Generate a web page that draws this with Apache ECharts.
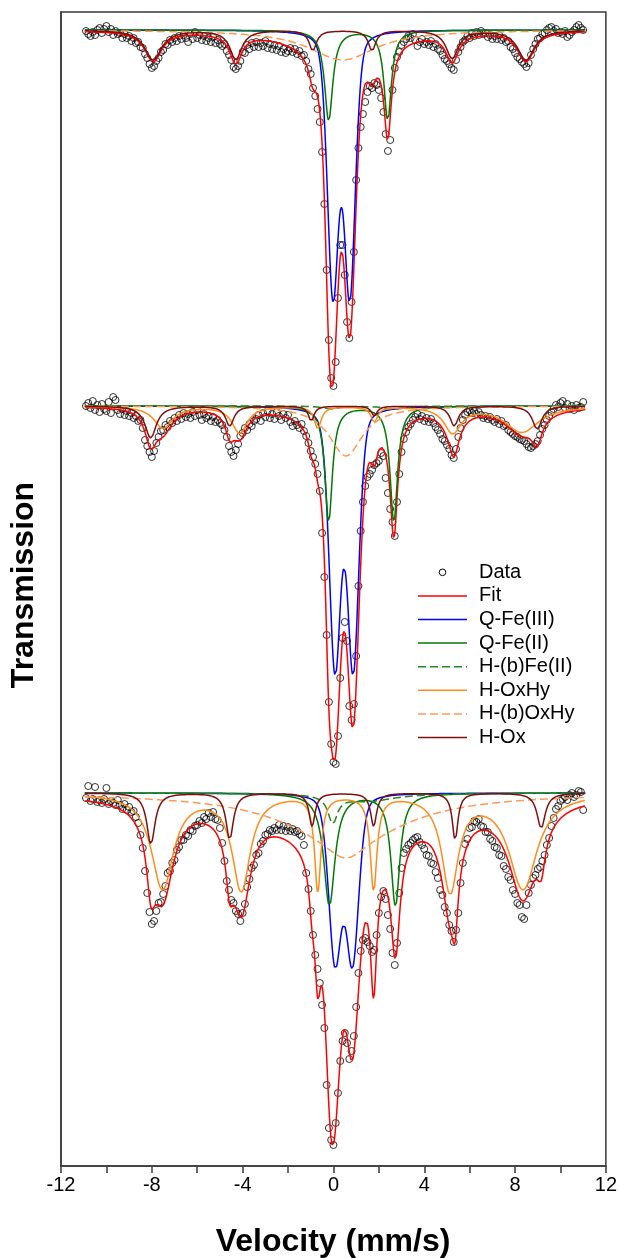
<!DOCTYPE html>
<html><head><meta charset="utf-8">
<script src="https://cdn.jsdelivr.net/npm/echarts@6/dist/echarts.min.js"></script>
<style>html,body{margin:0;padding:0;background:#fff}#c{width:620px;height:1258px}</style>
</head><body><div id="c"></div>
<script>
// x-axis tick labels
const xTicks = [-12, -8, -4, 0, 4, 8, 12];
// vertical offsets of the three stacked spectra
const offsets = [0.1526, 0.0774, 0];

// measured data: velocity (mm/s) and relative transmission of the three spectra (top, middle, bottom)
const velocity = [
-10.9,-10.8,-10.7,-10.6,-10.5,-10.4,-10.3,-10.2,-10.1,-10.0,-9.9,-9.8,-9.7,-9.6,-9.5,
-9.4,-9.3,-9.2,-9.1,-9.0,-8.9,-8.8,-8.7,-8.6,-8.5,-8.4,-8.3,-8.2,-8.1,-8.0,
-7.9,-7.8,-7.7,-7.6,-7.5,-7.4,-7.3,-7.2,-7.1,-7.0,-6.9,-6.8,-6.7,-6.6,-6.5,
-6.4,-6.3,-6.2,-6.1,-6.0,-5.9,-5.8,-5.7,-5.6,-5.5,-5.4,-5.3,-5.2,-5.1,-5.0,
-4.9,-4.8,-4.7,-4.6,-4.5,-4.4,-4.3,-4.2,-4.1,-4.0,-3.9,-3.8,-3.7,-3.6,-3.5,
-3.4,-3.3,-3.2,-3.1,-3.0,-2.9,-2.8,-2.7,-2.6,-2.5,-2.4,-2.3,-2.2,-2.1,-2.0,
-1.9,-1.8,-1.7,-1.6,-1.5,-1.4,-1.3,-1.2,-1.1,-1.0,-0.9,-0.8,-0.7,-0.6,-0.5,
-0.4,-0.3,-0.2,-0.1,0.0,0.1,0.2,0.3,0.4,0.5,0.6,0.7,0.8,0.9,1.0,
1.1,1.2,1.3,1.4,1.5,1.6,1.7,1.8,1.9,2.0,2.1,2.2,2.3,2.4,2.5,
2.6,2.7,2.8,2.9,3.0,3.1,3.2,3.3,3.4,3.5,3.6,3.7,3.8,3.9,4.0,
4.1,4.2,4.3,4.4,4.5,4.6,4.7,4.8,4.9,5.0,5.1,5.2,5.3,5.4,5.5,
5.6,5.7,5.8,5.9,6.0,6.1,6.2,6.3,6.4,6.5,6.6,6.7,6.8,6.9,7.0,
7.1,7.2,7.3,7.4,7.5,7.6,7.7,7.8,7.9,8.0,8.1,8.2,8.3,8.4,8.5,
8.6,8.7,8.8,8.9,9.0,9.1,9.2,9.3,9.4,9.5,9.6,9.7,9.8,9.9,10.0,
10.1,10.2,10.3,10.4,10.5,10.6,10.7,10.8,10.9,11.0];
const data1 = [
0.9998,0.9992,0.9988,0.9996,0.9990,1.0000,1.0004,0.9994,1.0002,1.0008,0.9996,1.0002,0.9990,0.9998,0.9992,
0.9994,0.9984,0.9992,0.9984,0.9988,0.9978,0.9984,0.9974,0.9976,0.9966,0.9964,0.9952,0.9944,0.9932,0.9924,
0.9928,0.9938,0.9944,0.9956,0.9960,0.9972,0.9970,0.9980,0.9976,0.9984,0.9978,0.9988,0.9982,0.9990,0.9984,
0.9976,0.9992,0.9982,0.9996,0.9984,0.9990,0.9980,0.9988,0.9978,0.9984,0.9976,0.9986,0.9974,0.9980,0.9972,
0.9968,0.9972,0.9958,0.9950,0.9940,0.9926,0.9922,0.9928,0.9938,0.9956,0.9954,0.9970,0.9962,0.9974,0.9966,
0.9976,0.9966,0.9974,0.9968,0.9978,0.9964,0.9972,0.9962,0.9970,0.9960,0.9968,0.9956,0.9962,0.9954,0.9958,
0.9964,0.9956,0.9962,0.9952,0.9958,0.9948,0.9950,0.9938,0.9922,0.9912,0.9884,0.9868,0.9842,0.9816,0.9756,
0.9652,0.9520,0.9380,0.9304,0.9288,0.9336,0.9464,0.9570,0.9570,0.9510,0.9416,0.9384,0.9456,0.9556,0.9700,
0.9764,0.9806,0.9832,0.9856,0.9876,0.9888,0.9884,0.9894,0.9890,0.9880,0.9864,0.9836,0.9792,0.9758,0.9780,
0.9880,0.9924,0.9946,0.9956,0.9970,0.9976,0.9982,0.9988,0.9984,0.9992,0.9980,0.9968,0.9976,0.9982,0.9972,
0.9976,0.9970,0.9978,0.9966,0.9972,0.9962,0.9958,0.9950,0.9942,0.9938,0.9932,0.9924,0.9920,0.9940,0.9956,
0.9966,0.9976,0.9980,0.9988,0.9984,0.9994,0.9988,0.9996,0.9990,0.9998,0.9992,0.9994,0.9986,0.9990,0.9982,
0.9988,0.9982,0.9990,0.9980,0.9984,0.9976,0.9978,0.9966,0.9962,0.9954,0.9946,0.9942,0.9936,0.9932,0.9926,
0.9934,0.9950,0.9962,0.9972,0.9982,0.9984,0.9992,0.9994,1.0000,1.0004,1.0006,0.9998,1.0002,0.9994,0.9996,
0.9992,0.9998,0.9986,0.9990,0.9996,1.0000,1.0006,1.0010,1.0004,1.0000];
const data2 = [
1.0000,1.0006,0.9996,1.0010,0.9992,1.0002,0.9988,1.0004,0.9994,0.9990,1.0008,0.9986,1.0018,1.0012,0.9992,
0.9984,0.9994,0.9982,0.9990,0.9980,0.9986,0.9976,0.9980,0.9970,0.9972,0.9956,0.9932,0.9920,0.9908,0.9898,
0.9910,0.9926,0.9938,0.9950,0.9952,0.9962,0.9958,0.9970,0.9966,0.9976,0.9970,0.9982,0.9974,0.9986,0.9978,
0.9984,0.9976,0.9988,0.9980,0.9992,0.9982,0.9972,0.9984,0.9976,0.9980,0.9970,0.9978,0.9968,0.9972,0.9966,
0.9962,0.9952,0.9938,0.9920,0.9908,0.9900,0.9912,0.9924,0.9940,0.9946,0.9956,0.9952,0.9964,0.9960,0.9970,
0.9974,0.9982,0.9970,0.9986,0.9978,0.9990,0.9976,0.9984,0.9974,0.9988,0.9980,0.9972,0.9984,0.9976,0.9982,
0.9968,0.9960,0.9970,0.9962,0.9956,0.9964,0.9950,0.9940,0.9926,0.9910,0.9898,0.9884,0.9864,0.9830,0.9746,
0.9658,0.9542,0.9408,0.9324,0.9288,0.9284,0.9340,0.9456,0.9536,0.9568,0.9530,0.9400,0.9372,0.9404,0.9500,
0.9640,0.9750,0.9808,0.9840,0.9858,0.9864,0.9872,0.9882,0.9886,0.9890,0.9906,0.9900,0.9856,0.9826,0.9794,
0.9768,0.9740,0.9808,0.9864,0.9908,0.9934,0.9948,0.9958,0.9964,0.9972,0.9978,0.9984,0.9974,0.9980,0.9970,
0.9976,0.9968,0.9974,0.9966,0.9958,0.9952,0.9944,0.9934,0.9930,0.9922,0.9914,0.9902,0.9896,0.9914,0.9938,
0.9956,0.9972,0.9982,0.9988,0.9992,0.9986,0.9990,0.9984,0.9988,0.9982,0.9976,0.9980,0.9974,0.9978,0.9972,
0.9968,0.9974,0.9964,0.9970,0.9960,0.9962,0.9952,0.9948,0.9944,0.9940,0.9938,0.9934,0.9932,0.9930,0.9924,
0.9918,0.9916,0.9920,0.9924,0.9930,0.9942,0.9954,0.9962,0.9972,0.9980,0.9988,0.9994,1.0002,0.9998,1.0006,
1.0010,0.9996,1.0004,0.9994,1.0000,0.9992,1.0002,0.9996,0.9998,1.0008];
const data3 = [
0.9990,1.0014,0.9984,0.9988,1.0012,0.9982,0.9986,0.9980,0.9988,1.0010,0.9978,0.9984,0.9980,0.9976,0.9986,
0.9976,0.9968,0.9978,0.9966,0.9972,0.9962,0.9964,0.9952,0.9940,0.9916,0.9890,0.9844,0.9800,0.9762,0.9738,
0.9744,0.9764,0.9780,0.9782,0.9798,0.9814,0.9840,0.9844,0.9860,0.9866,0.9886,0.9892,0.9906,0.9906,0.9916,
0.9914,0.9926,0.9924,0.9934,0.9936,0.9944,0.9940,0.9952,0.9948,0.9960,0.9952,0.9962,0.9948,0.9946,0.9930,
0.9900,0.9864,0.9824,0.9806,0.9786,0.9780,0.9764,0.9758,0.9744,0.9760,0.9778,0.9812,0.9828,0.9850,0.9856,
0.9876,0.9880,0.9898,0.9904,0.9916,0.9918,0.9926,0.9924,0.9930,0.9926,0.9936,0.9926,0.9934,0.9924,0.9932,
0.9924,0.9928,0.9922,0.9924,0.9918,0.9914,0.9896,0.9840,0.9808,0.9764,0.9716,0.9676,0.9648,0.9620,0.9576,
0.9530,0.9416,0.9330,0.9306,0.9296,0.9340,0.9400,0.9464,0.9504,0.9520,0.9500,0.9468,0.9484,0.9514,0.9572,
0.9640,0.9684,0.9706,0.9710,0.9702,0.9694,0.9682,0.9686,0.9716,0.9760,0.9792,0.9804,0.9788,0.9756,0.9728,
0.9680,0.9656,0.9700,0.9800,0.9850,0.9880,0.9888,0.9896,0.9900,0.9906,0.9910,0.9912,0.9902,0.9896,0.9888,
0.9876,0.9874,0.9860,0.9858,0.9842,0.9830,0.9806,0.9796,0.9772,0.9760,0.9736,0.9724,0.9702,0.9726,0.9760,
0.9820,0.9860,0.9898,0.9908,0.9930,0.9932,0.9944,0.9942,0.9948,0.9934,0.9932,0.9922,0.9922,0.9908,0.9904,
0.9892,0.9890,0.9876,0.9874,0.9854,0.9848,0.9832,0.9826,0.9806,0.9798,0.9780,0.9776,0.9752,0.9748,0.9776,
0.9800,0.9816,0.9830,0.9836,0.9848,0.9852,0.9864,0.9876,0.9896,0.9910,0.9934,0.9950,0.9968,0.9974,0.9984,
0.9988,0.9992,0.9986,0.9996,1.0000,0.9992,0.9996,1.0004,1.0002,0.9966];

// fitted sub-spectra: lines [centre (mm/s), half width (mm/s), depth, Lorentzian fraction]
const s1_QFe3 = [[-0.02,0.29,0.0520,0.3],[0.72,0.29,0.0520,0.3]];
const s1_QFe2 = [[-0.21,0.22,0.0180],[2.39,0.20,0.0180]];
const s1_HbOxHy = [[0.40,1.8,0.0060]];
const s1_HOx = [[-7.94,0.45,0.0060],[-4.30,0.32,0.0058],[-0.91,0.20,0.0040],[1.70,0.20,0.0040],[5.23,0.33,0.0056],[8.48,0.44,0.0060]];

const s2_QFe3 = [[0.07,0.30,0.0518,0.3],[0.87,0.30,0.0518,0.3]];
const s2_QFe2 = [[-0.21,0.20,0.0230],[2.66,0.20,0.0230]];
const s2_HbFe2 = [[-0.10,0.40,0.0006],[2.60,0.50,0.0006]];
const s2_HOxHy = [[-7.50,0.50,0.0044],[-4.13,0.40,0.0054],[-0.69,0.18,0.0044],[1.80,0.18,0.0030],[5.25,0.45,0.0052],[8.30,0.90,0.0052]];
const s2_HbOxHy = [[0.55,0.9,0.0100]];
const s2_HOx = [[-8.05,0.30,0.0064],[-4.57,0.22,0.0040],[-0.98,0.15,0.0030],[1.80,0.15,0.0020],[5.32,0.22,0.0040],[8.97,0.25,0.0046]];

const s3_QFe3 = [[0.07,0.33,0.0330,0.3],[0.84,0.33,0.0330,0.3]];
const s3_QFe2 = [[-0.18,0.30,0.0224],[2.73,0.24,0.0224]];
const s3_HbFe2 = [[-0.03,0.25,0.0054],[1.50,1.50,0.0016]];
const s3_HOxHy = [[-7.53,0.59,0.0190],[-4.06,0.48,0.0192],[-0.69,0.17,0.0190],[1.77,0.18,0.0188],[5.14,0.44,0.0192],[8.35,0.75,0.0190]];
const s3_HbOxHy = [[0.55,3.3,0.0094],[0.55,1.0,0.0036]];
const s3_HOx = [[-8.04,0.22,0.0102],[-4.57,0.20,0.0092],[-0.94,0.16,0.0066],[1.77,0.16,0.0066],[5.36,0.15,0.0094],[9.15,0.22,0.0070]];

const spectra = [
  {off: offsets[0], data: data1, comps: {'Q-Fe(III)': s1_QFe3, 'Q-Fe(II)': s1_QFe2, 'H-(b)OxHy': s1_HbOxHy, 'H-Ox': s1_HOx}},
  {off: offsets[1], data: data2, comps: {'Q-Fe(III)': s2_QFe3, 'Q-Fe(II)': s2_QFe2, 'H-(b)Fe(II)': s2_HbFe2, 'H-OxHy': s2_HOxHy, 'H-(b)OxHy': s2_HbOxHy, 'H-Ox': s2_HOx}},
  {off: offsets[2], data: data3, comps: {'Q-Fe(III)': s3_QFe3, 'Q-Fe(II)': s3_QFe2, 'H-(b)Fe(II)': s3_HbFe2, 'H-OxHy': s3_HOxHy, 'H-(b)OxHy': s3_HbOxHy, 'H-Ox': s3_HOx}}
];
const styles = {
  'Fit': {color:'#ff0000', type:'solid'},
  'Q-Fe(III)': {color:'#0000ff', type:'solid'},
  'Q-Fe(II)': {color:'#007a00', type:'solid'},
  'H-(b)Fe(II)': {color:'#1f8a1f', type:[8,4]},
  'H-OxHy': {color:'#ff8c1a', type:'solid'},
  'H-(b)OxHy': {color:'#ff9955', type:[8,4]},
  'H-Ox': {color:'#7f0f0f', type:'solid'}
};
const order = ['Fit','Q-Fe(III)','Q-Fe(II)','H-(b)Fe(II)','H-OxHy','H-(b)OxHy','H-Ox'];

function absorb(v, lines){
  let s = 0;
  for (const ln of lines){
    const c = ln[0], w = ln[1], d = ln[2], e = ln.length > 3 ? ln[3] : 1;
    const t2 = ((v - c) / w) ** 2;
    s += d * (e / (1 + t2) + (1 - e) * Math.exp(-Math.LN2 * t2));
  }
  return s;
}
const curveV = []; for (let i = 0; i <= 2205; i++) curveV.push(-10.95 + i * 0.01);

const series = [];
spectra.forEach((sp) => {
  series.push({type:'scatter', name:'Data', data: velocity.map((v,i)=>[v, sp.data[i] + sp.off]),
    symbol:'circle', symbolSize:7, itemStyle:{color:'rgba(0,0,0,0)', borderColor:'#000', borderWidth:1}, z:2, silent:true});
  const all = Object.values(sp.comps);
  order.forEach(name => {
    const lines = name === 'Fit' ? [].concat(...all) : sp.comps[name];
    if (!lines) return;
    series.push({type:'line', name, showSymbol:false, symbol:'none', z:3, silent:true,
      data: curveV.map(v => [v, 1 + sp.off - absorb(v, lines)]),
      lineStyle:{color:styles[name].color, width:1.5, type:styles[name].type}, itemStyle:{color:styles[name].color}});
  });
});

const font = '"Liberation Sans", Arial, sans-serif';
// legend drawn with graphic elements
const legendNames = ['Data'].concat(order);
const legendGraphics = [];
legendNames.forEach((name, i) => {
  const y = 572.3 + i * 23.6;
  if (name === 'Data') {
    legendGraphics.push({type:'circle', shape:{cx:442.5, cy:y, r:3.3}, style:{fill:'none', stroke:'#000', lineWidth:1}});
  } else {
    const st = styles[name];
    legendGraphics.push({type:'line', shape:{x1:418, y1:y, x2:467, y2:y},
      style:{stroke:st.color, lineWidth:1.5, lineDash: Array.isArray(st.type) ? st.type : null}});
  }
  legendGraphics.push({type:'text', x:479, y:y, style:{text:name, font:'20px ' + font, fill:'#000', textVerticalAlign:'middle'}});
});

const chart = echarts.init(document.getElementById('c'), null, {renderer:'canvas'});
chart.setOption({
  animation:false,
  backgroundColor:'#fff',
  grid:{left:61, right:13, top:12, bottom:92, show:true, borderColor:'#3a3a3a', borderWidth:1.5},
  xAxis:{type:'value', min:-12, max:12, interval:2,
    axisLine:{onZero:false, lineStyle:{color:'#3a3a3a', width:1.5}},
    axisTick:{length:7, lineStyle:{color:'#3a3a3a', width:1.5}},
    axisLabel:{margin:9, fontSize:20, color:'#000', fontFamily:font, formatter: v => xTicks.includes(v) ? String(v) : ''},
    splitLine:{show:false}},
  yAxis:{type:'value', min:0.9254, max:1.1562, axisLine:{show:true, onZero:false, lineStyle:{color:'#3a3a3a', width:1.5}},
    axisTick:{show:false}, axisLabel:{show:false}, splitLine:{show:false}},
  graphic: legendGraphics.concat([
    {type:'text', x:24, y:585, rotation:Math.PI/2, style:{text:'Transmission', font:'bold 32px ' + font, fill:'#000', textAlign:'center', textVerticalAlign:'middle'}},
    {type:'text', x:333, y:1242, style:{text:'Velocity (mm/s)', font:'bold 32px ' + font, fill:'#000', textAlign:'center', textVerticalAlign:'middle'}}
  ]),
  series
});
</script></body></html>
